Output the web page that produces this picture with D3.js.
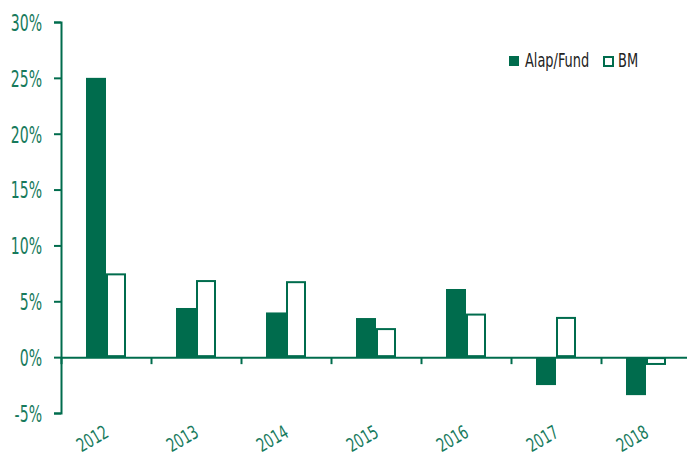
<!DOCTYPE html>
<html>
<head>
<meta charset="utf-8">
<script src="https://cdn.jsdelivr.net/npm/d3@7"></script>
<style>
  body { margin: 0; background: #fff; }
  text { font-family: 'Liberation Sans Narrow', 'DejaVu Sans Condensed', 'Roboto', sans-serif; }
</style>
</head>
<body>
<svg></svg>
<script>
const w = 687
const h = 459

const years = ['2012', '2013', '2014', '2015', '2016', '2017', '2018']
const fund = [25.0, 4.4, 4.0, 3.5, 6.1, -2.5, -3.4]
const bm = [7.5, 6.9, 6.8, 2.6, 3.9, 3.6, -0.7]
const yTicks = [-5, 0, 5, 10, 15, 20, 25, 30]
const seriesNames = ['Alap/Fund', 'BM']

const green = '#006c4d'
const labelGreen = '#177a5c'

const pLeft = 61
const pRight = 691
const pTop = 22
const pBottom = 413

const svg = d3.select('svg').attr('width', w).attr('height', h)

const x = d3.scaleBand().domain(years).range([pLeft, pRight])
  .paddingInner(5 / 9).paddingOuter(5 / 18)
const sub = d3.scaleBand().domain(seriesNames).range([0, x.bandwidth()])
const y = d3.scaleLinear().domain([-5, 30]).range([pBottom, pTop])

// y axis
const ys = 0.68
const yAxis = svg.append('g')
  .attr('transform', `translate(${pLeft},0)`)
  .call(d3.axisLeft(y).tickValues(yTicks).tickSize(7).tickSizeOuter(7).tickFormat(d => d + '%'))
yAxis.selectAll('path, line').attr('stroke', green).attr('stroke-width', 2)
yAxis.selectAll('text')
  .attr('fill', labelGreen)
  .attr('font-size', 23)
  .attr('x', -19 / ys)
  .attr('dy', '0.36em')
  .attr('transform', `scale(${ys},1)`)

// x axis at zero with ticks between categories
const idx = d3.scaleLinear().domain([0, years.length]).range([pLeft, pRight])
const xAxis = svg.append('g')
  .attr('transform', `translate(0,${y(0)})`)
  .call(d3.axisBottom(idx).tickValues(d3.range(0, years.length + 1)).tickSize(7).tickSizeOuter(0).tickFormat(''))
xAxis.selectAll('path, line').attr('stroke', green).attr('stroke-width', 2)

// year labels
svg.append('g').selectAll('text')
  .data(years)
  .join('text')
  .attr('transform', d => `translate(${x(d) + x.bandwidth() / 2 + 4},${436}) rotate(-30) scale(0.76,1)`)
  .attr('text-anchor', 'end')
  .attr('fill', labelGreen)
  .attr('font-size', 19)
  .text(d => d)

// fund bars
svg.append('g').selectAll('rect')
  .data(years)
  .join('rect')
  .attr('x', d => x(d) + sub('Alap/Fund'))
  .attr('y', (d, i) => y(Math.max(0, fund[i])))
  .attr('width', sub.bandwidth())
  .attr('height', (d, i) => Math.abs(y(fund[i]) - y(0)))
  .attr('fill', green)

// bm bars
svg.append('g').selectAll('rect')
  .data(years)
  .join('rect')
  .attr('x', d => x(d) + sub('BM') + 1)
  .attr('y', (d, i) => y(Math.max(0, bm[i])) + 1)
  .attr('width', sub.bandwidth() - 2)
  .attr('height', (d, i) => Math.max(0, Math.abs(y(bm[i]) - y(0)) - 2))
  .attr('fill', '#fff')
  .attr('stroke', green)
  .attr('stroke-width', 2)

// legend
const ls = 0.72
const lg = svg.append('g').attr('transform', 'translate(509,56)')
lg.append('rect').attr('width', 10).attr('height', 10).attr('fill', green)
lg.append('text').attr('y', 11).attr('font-size', 20).attr('fill', '#222')
  .attr('transform', `scale(${ls},1)`).attr('x', 16 / ls).text(seriesNames[0])
lg.append('rect').attr('x', 95).attr('y', 1).attr('width', 9).attr('height', 9)
  .attr('fill', '#fff').attr('stroke', green).attr('stroke-width', 2)
lg.append('text').attr('y', 11).attr('font-size', 20).attr('fill', '#222')
  .attr('transform', `scale(${ls},1)`).attr('x', 109 / ls).text(seriesNames[1])
</script>
</body>
</html>
